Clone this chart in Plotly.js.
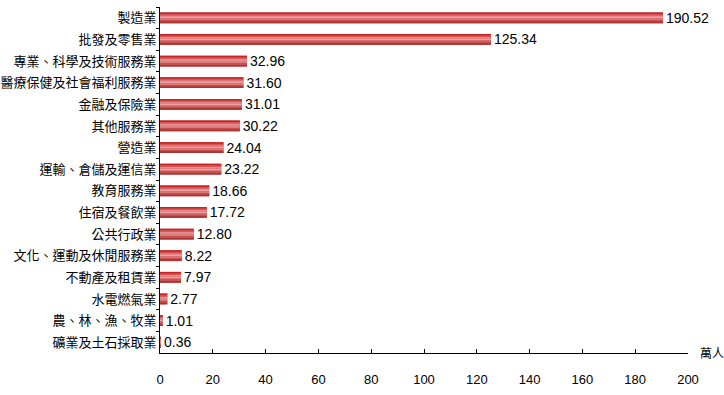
<!DOCTYPE html>
<html>
<head>
<meta charset="utf-8">
<script src="https://cdn.plot.ly/plotly-3.0.1.min.js"></script>
<style>html,body{margin:0;padding:0;background:#fff;}#chart{width:724px;height:395px;}</style>
</head>
<body>
<div id="chart"></div>
<script>
var categories = ["製造業","批發及零售業","專業、科學及技術服務業","醫療保健及社會福利服務業","金融及保險業","其他服務業","營造業","運輸、倉儲及運信業","教育服務業","住宿及餐飲業","公共行政業","文化、運動及休閒服務業","不動產及租賃業","水電燃氣業","農、林、漁、牧業","礦業及土石採取業"];
var values = [190.52,125.34,32.96,31.60,31.01,30.22,24.04,23.22,18.66,17.72,12.80,8.22,7.97,2.77,1.01,0.36];
var xTicks = [0,20,40,60,80,100,120,140,160,180,200];
var unitLabel = "萬人";

var barWidth = 0.5;
var bandColors = ["#cc2222","#d65454","#e48c8c","#eaa2a2","#dc7878","#c65050","#a83434"];
var traces = [];
traces.push({
  type:"bar", orientation:"h", x:values, y:categories, width:barWidth,
  marker:{color:"#b83030", line:{width:0}},
  text:values.map(function(v){return v.toFixed(2);}),
  textposition:"outside", cliponaxis:false, constraintext:"none",
  textfont:{family:"Liberation Sans, Arial, sans-serif", size:14, color:"#000"},
  hoverinfo:"skip"
});
var n = bandColors.length, bw = barWidth/n;
for (var i=0;i<n;i++){
  traces.push({
    type:"bar", orientation:"h", x:values, y:categories, width:bw, offset:-barWidth/2 + i*bw,
    marker:{color:bandColors[i], line:{width:0}}, hoverinfo:"skip"
  });
}

var layout = {
  width:724, height:395,
  margin:{l:160, r:36, t:7, b:42},
  paper_bgcolor:"#fff", plot_bgcolor:"#fff",
  showlegend:false, barmode:"overlay",
  font:{family:"Liberation Sans, Arial, sans-serif", size:13, color:"#000"},
  xaxis:{range:[0,200], tickvals:xTicks, ticks:"inside", ticklen:4, tickcolor:"#000",
    showline:true, linecolor:"#000", linewidth:1, showgrid:false, zeroline:false,
    ticklabelstandoff:14, tickfont:{family:"Liberation Sans, Arial, sans-serif", size:13}},
  yaxis:{type:"category", autorange:"reversed", ticks:"outside", tickson:"boundaries", ticklen:3,
    tickcolor:"#000", showline:true, linecolor:"#000", linewidth:1, showgrid:false, zeroline:false,
    tickfont:{family:"Noto Sans CJK TC, sans-serif", size:13}},
  annotations:[{text:unitLabel, xref:"paper", yref:"paper", x:1, y:0, xanchor:"left", yanchor:"middle",
    xshift:10, yshift:1, showarrow:false, font:{family:"Noto Sans CJK TC, sans-serif", size:12}}]
};
Plotly.newPlot("chart", traces, layout, {displayModeBar:false, staticPlot:true});
</script>
</body>
</html>
